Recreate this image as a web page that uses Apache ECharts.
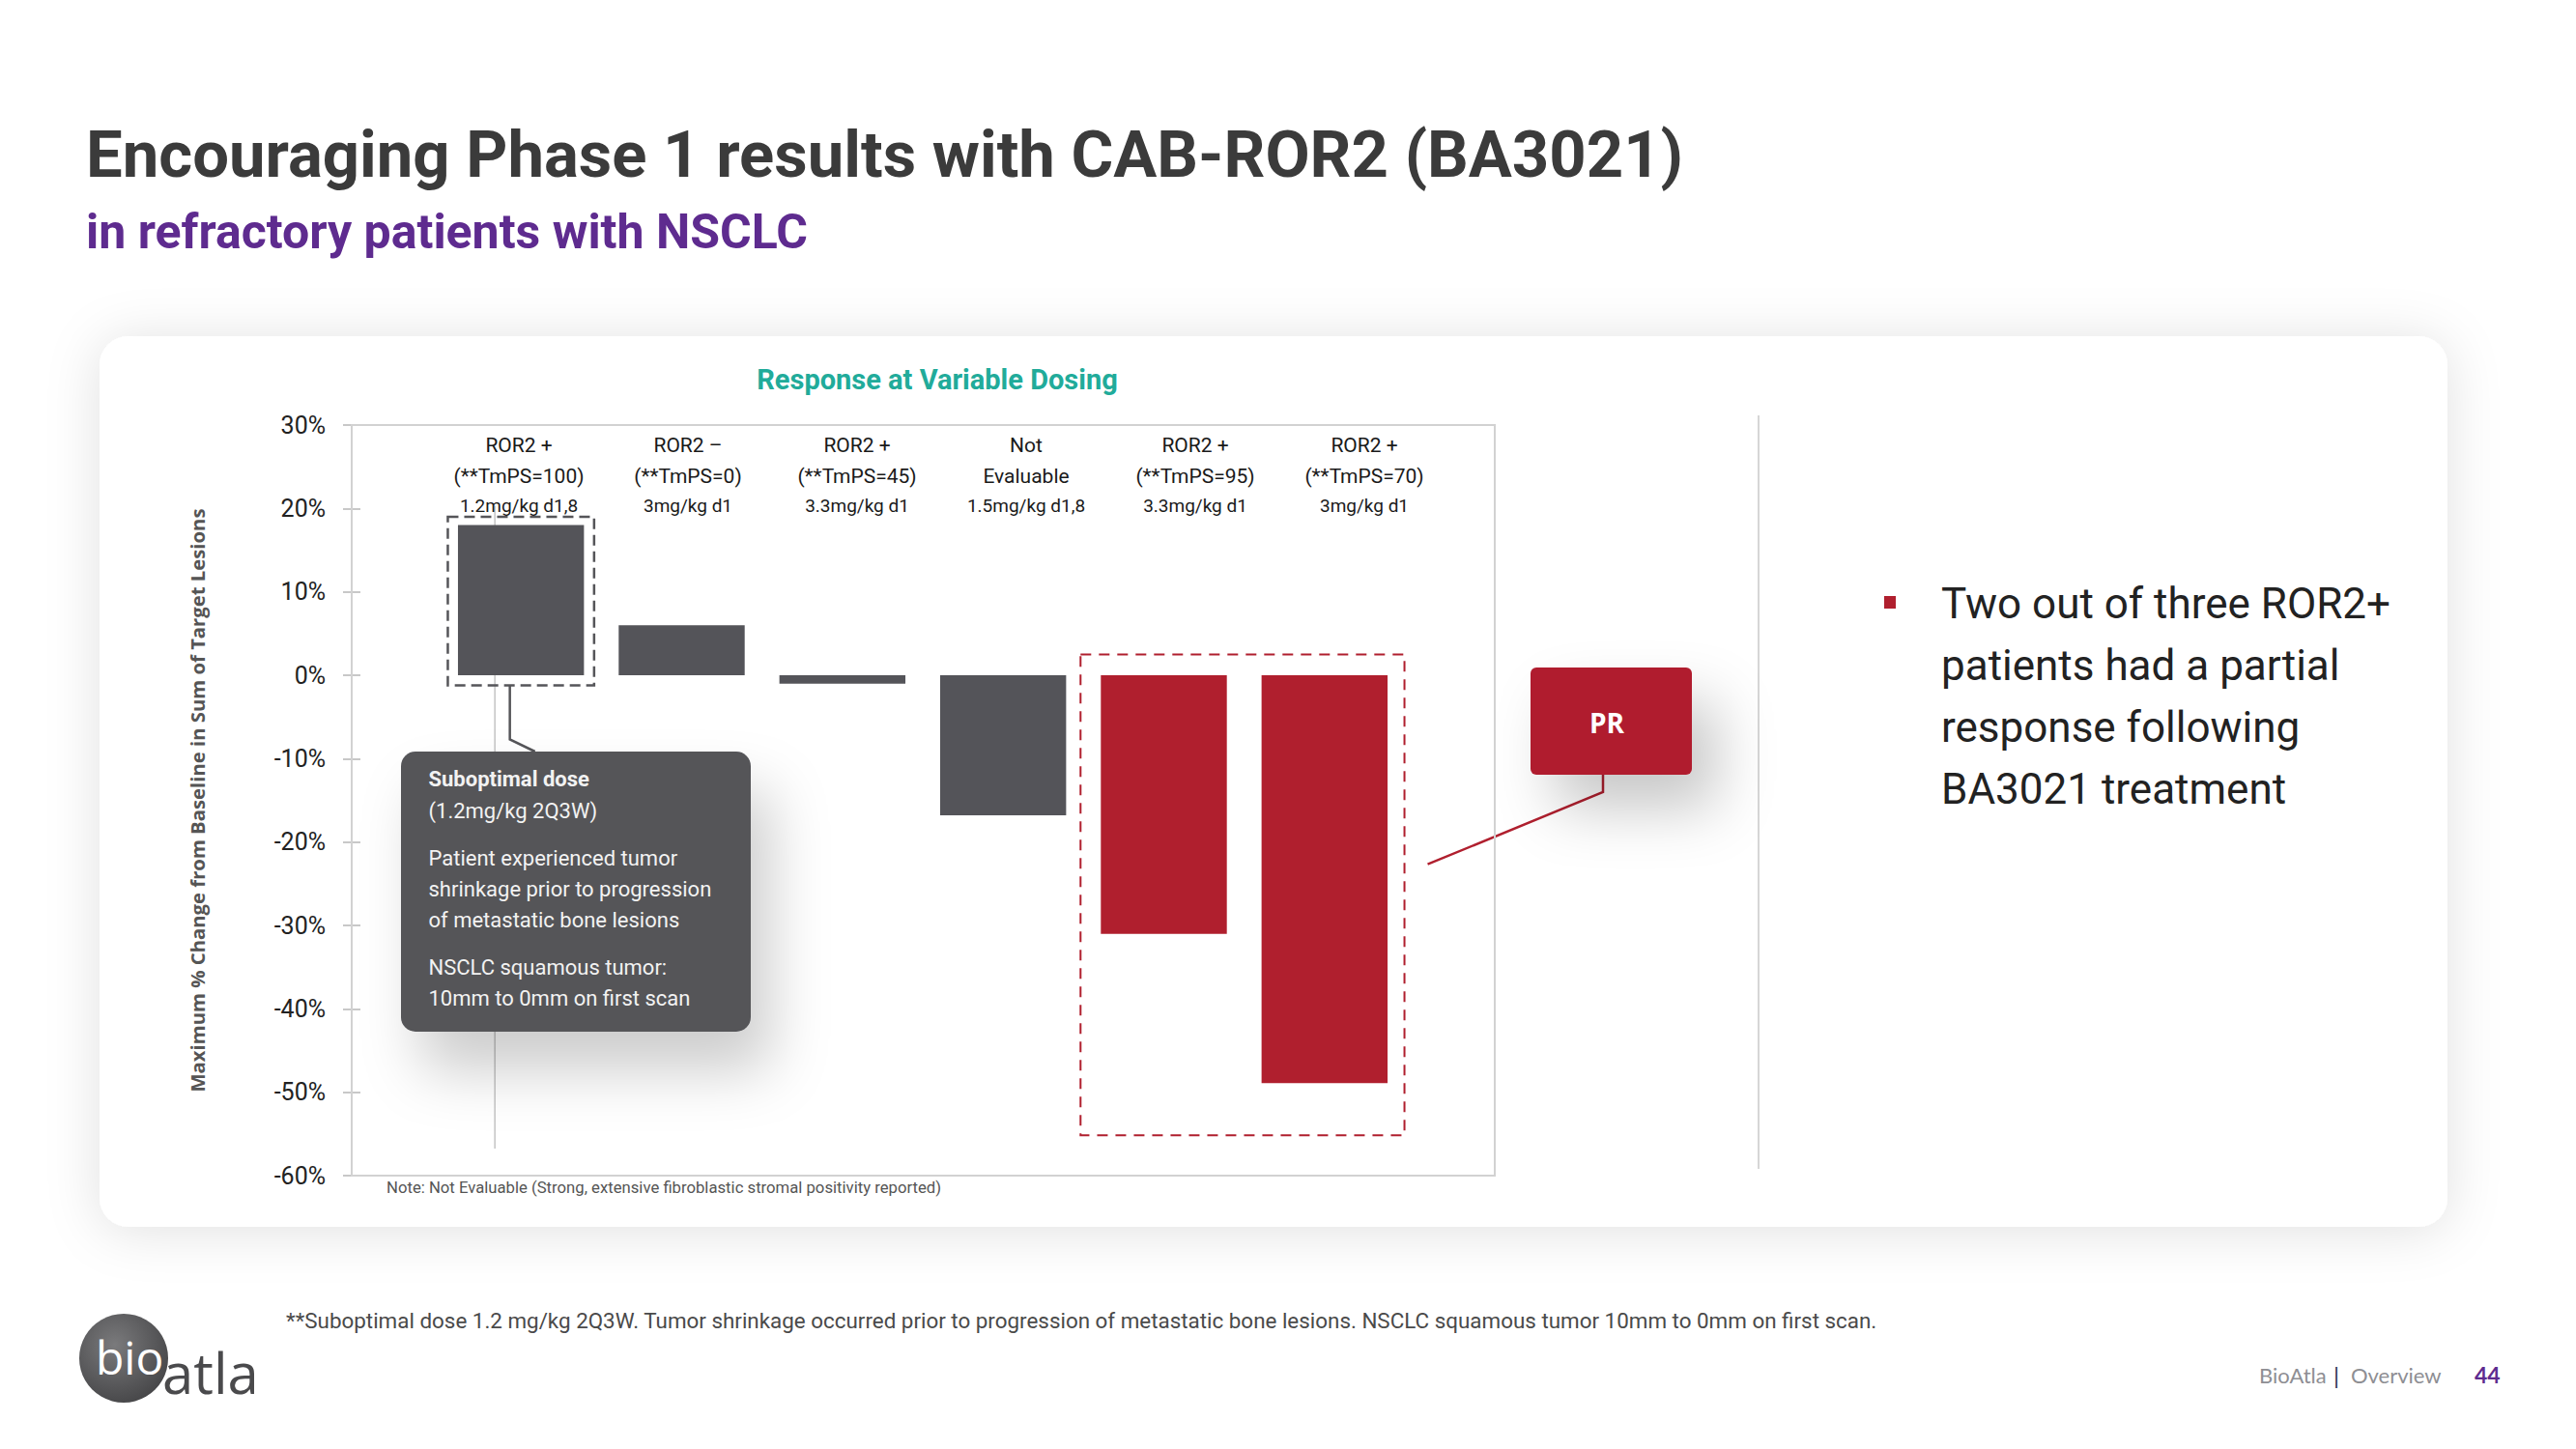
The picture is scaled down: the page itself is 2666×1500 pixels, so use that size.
<!DOCTYPE html>
<html><head><meta charset="utf-8">
<script src="https://cdn.jsdelivr.net/npm/echarts/dist/echarts.min.js"></script>
<style>html,body{margin:0;padding:0;background:#fff;}#c{width:2666px;height:1500px;}</style>
</head><body><div id="c"></div>
<script>
// ---- data ----
const markers = ['ROR2 +', 'ROR2 \u2013', 'ROR2 +', 'Not', 'ROR2 +', 'ROR2 +'];
const tmps = ['(**TmPS=100)', '(**TmPS=0)', '(**TmPS=45)', 'Evaluable', '(**TmPS=95)', '(**TmPS=70)'];
const doses = ['1.2mg/kg d1,8', '3mg/kg d1', '3.3mg/kg d1', '1.5mg/kg d1,8', '3.3mg/kg d1', '3mg/kg d1'];
const values = [18, 6, -1, -16.8, -31, -48.9];
const responses = ['', '', '', '', 'PR', 'PR'];
const yMin = -60, yMax = 30, yStep = 10;
const calloutLines = [
  ['Suboptimal dose', true], ['(1.2mg/kg 2Q3W)', false],
  ['Patient experienced tumor', false], ['shrinkage prior to progression', false], ['of metastatic bone lesions', false],
  ['NSCLC squamous tumor:', false], ['10mm to 0mm on first scan', false]
];
const bulletLines = ['Two out of three ROR2+', 'patients had a partial', 'response following', 'BA3021 treatment'];

const GRAY = '#545459', RED = '#b01f2e', F = 'Roboto';
const chart = echarts.init(document.getElementById('c'), null, {renderer: 'svg', width: 2666, height: 1500});
const idx = values.map((_, i) => String(i));

chart.setOption({
  animation: false,
  backgroundColor: '#ffffff',
  grid: [
    {left: 364, top: 440, width: 1183, height: 777, show: true, borderColor: '#d2d2d2', borderWidth: 2, backgroundColor: 'transparent', z: 1},
    {left: 456, top: 440, width: 998, height: 777},
    {left: 449.5, top: 440, width: 1050, height: 777}
  ],
  xAxis: [
    {gridIndex: 0, type: 'value', min: 0, max: 1, show: false},
    {gridIndex: 1, type: 'category', data: idx, show: false},
    {gridIndex: 2, type: 'category', data: idx, position: 'top',
      axisLine: {show: false}, axisTick: {show: false},
      axisLabel: {inside: true, interval: 0, margin: 5, align: 'center',
        formatter: (v, i) => `{a|${markers[i]}}\n{a|${tmps[i]}}\n{c|${doses[i]}}`,
        rich: {a: {fontFamily: F, fontSize: 21, lineHeight: 32, color: '#1a1a1a', align: 'center'},
               c: {fontFamily: F, fontSize: 19, lineHeight: 28, color: '#1a1a1a', align: 'center'}}}}
  ],
  yAxis: [
    {gridIndex: 0, min: yMin, max: yMax, interval: yStep, position: 'left',
      name: 'Maximum % Change from Baseline in Sum of Target Lesions', nameLocation: 'middle', nameGap: 150, nameRotate: 90,
      nameTextStyle: {fontFamily: 'Open Sans', fontWeight: 'bold', fontSize: 20.3, color: '#555'},
      axisLine: {show: true, lineStyle: {color: '#c8c8c8', width: 2}},
      axisTick: {show: true, length: 9, lineStyle: {color: '#c8c8c8', width: 2}},
      axisLabel: {formatter: '{value}%', fontFamily: F, fontSize: 25, color: '#222', margin: 27},
      splitLine: {show: false}},
    {gridIndex: 0, min: yMin, max: yMax, interval: yStep, position: 'left',
      axisLine: {show: false}, axisLabel: {show: false}, splitLine: {show: false},
      axisTick: {show: true, inside: true, length: 9, lineStyle: {color: '#c8c8c8', width: 2}}},
    {gridIndex: 1, min: yMin, max: yMax, interval: yStep, show: false, splitLine: {show: false}},
    {gridIndex: 2, min: 0, max: 1, show: false, splitLine: {show: false}}
  ],
  series: [{
    type: 'bar', xAxisIndex: 1, yAxisIndex: 2, barCategoryGap: '21.6%',
    data: values.map((v, i) => ({value: v, itemStyle: {color: responses[i] === 'PR' ? RED : GRAY}}))
  }]
});

// ---- annotations derived from the axes ----
const px = (i, v) => chart.convertToPixel({xAxisIndex: 1, yAxisIndex: 2}, [i, v]);
const c0 = px(0, 0)[0], c1 = px(1, 0)[0];
const band = c1 - c0, bw = band * (1 - 0.216);
const y0 = px(0, 0)[1];
const yTop0 = px(0, values[0])[1];
const prIdx = responses.map((r, i) => r === 'PR' ? i : -1).filter(i => i >= 0);
const prFirst = prIdx[0], prLast = prIdx[prIdx.length - 1];
const prMin = Math.min(...prIdx.map(i => values[i]));
const rbL = px(prFirst, 0)[0] - bw / 2 - 21, rbR = px(prLast, 0)[0] + bw / 2 + 17.5;
const rbT = y0 - 21.5, rbB = px(prLast, prMin)[1] + 54;

const g = [];
// card
g.push({type: 'rect', z: -100, shape: {x: 103, y: 348, width: 2430, height: 922, r: 30},
  style: {fill: '#fff', shadowBlur: 55, shadowColor: 'rgba(0,0,0,0.12)', shadowOffsetY: 4}});
// titles
g.push({type: 'text', left: 89, top: 126, style: {text: 'Encouraging Phase 1 results with CAB-ROR2 (BA3021)', font: `bold 67px ${F}`, fill: '#3b3b3b'}});
g.push({type: 'text', left: 89, top: 215, style: {text: 'in refractory patients with NSCLC', font: `bold 50px ${F}`, fill: '#5e2b8f'}});
g.push({type: 'text', x: 970, y: 393, style: {text: 'Response at Variable Dosing', font: `bold 29px ${F}`, fill: '#21ab9a', align: 'center', verticalAlign: 'middle'}});
// separator line
g.push({type: 'line', shape: {x1: 1820, y1: 430, x2: 1820, y2: 1210}, style: {stroke: '#d6d6d6', lineWidth: 2}});
// thin gray leader line behind callout
g.push({type: 'line', shape: {x1: c0 - 27, y1: yTop0 - 20, x2: c0 - 27, y2: 1189}, style: {stroke: '#c4c4c4', lineWidth: 1.5}});
// dashed box bar 1
g.push({type: 'rect', shape: {x: c0 - bw / 2 - 10.5, y: yTop0 - 8.5, width: bw + 21, height: (y0 + 10.5) - (yTop0 - 8.5)},
  style: {fill: 'none', stroke: '#555559', lineWidth: 2.5, lineDash: [11, 6]}});
// red dashed box
g.push({type: 'rect', shape: {x: rbL, y: rbT, width: rbR - rbL, height: rbB - rbT},
  style: {fill: 'none', stroke: RED, lineWidth: 2, lineDash: [11, 8]}});
// connector bar1 -> callout
const cx = c0 - 11.5;
g.push({type: 'polyline', shape: {points: [[cx, y0 + 10.5], [cx, 765.5], [cx + 26, 778]]}, style: {stroke: '#555559', lineWidth: 2.5, fill: 'none'}});
// callout box
g.push({type: 'rect', shape: {x: 415, y: 778, width: 362, height: 290, r: 15},
  style: {fill: '#555559', shadowBlur: 60, shadowOffsetX: 20, shadowOffsetY: 40, shadowColor: 'rgba(0,0,0,0.20)'}});
const cy = [806, 839, 888, 920, 952, 1001, 1033];
calloutLines.forEach(([t, b], k) => g.push({type: 'text', x: 443.5, y: cy[k],
  style: {text: t, font: `${b ? 'bold ' : ''}22px ${F}`, fill: '#f2f2f2', verticalAlign: 'middle'}}));
// PR box
g.push({type: 'polyline', shape: {points: [[1659, 800], [1659, 820], [rbR + 24, 894.7]]}, style: {stroke: RED, lineWidth: 2.5, fill: 'none'}});
g.push({type: 'rect', shape: {x: 1584, y: 691, width: 167, height: 111, r: 6},
  style: {fill: RED, shadowBlur: 60, shadowOffsetX: 25, shadowOffsetY: 35, shadowColor: 'rgba(0,0,0,0.22)'}});
g.push({type: 'text', x: 1663, y: 748, style: {text: 'PR', font: `bold 28px "Open Sans"`, fill: '#fff', align: 'center', verticalAlign: 'middle'}});
// note
g.push({type: 'text', x: 400, y: 1229, style: {text: 'Note: Not Evaluable (Strong, extensive fibroblastic stromal positivity reported)', font: `16.7px ${F}`, fill: '#555', verticalAlign: 'middle'}});
// bullet
g.push({type: 'rect', shape: {x: 1950, y: 617, width: 12, height: 13}, style: {fill: RED}});
const by = [625, 689, 753, 817];
bulletLines.forEach((t, k) => g.push({type: 'text', x: 2009, y: by[k], style: {text: t, font: `44px ${F}`, fill: '#222', verticalAlign: 'middle'}}));
// footer
g.push({type: 'text', x: 296, y: 1367, style: {text: '**Suboptimal dose 1.2 mg/kg 2Q3W. Tumor shrinkage occurred prior to progression of metastatic bone lesions. NSCLC squamous tumor 10mm to 0mm on first scan.', font: `22.4px ${F}`, fill: '#4a4a4a', verticalAlign: 'middle'}});
// logo
g.push({type: 'circle', shape: {cx: 128, cy: 1406, r: 46}, style: {fill: new echarts.graphic.RadialGradient(0.4, 0.35, 0.8, [{offset: 0, color: '#7a7a7c'}, {offset: 1, color: '#3e3e40'}])}});
g.push({type: 'text', x: 99, y: 1404, style: {text: 'bio', font: `48px "Open Sans"`, fill: '#fff', verticalAlign: 'middle'}});
g.push({type: 'text', x: 168, y: 1420, style: {text: 'atla', font: `58px "Open Sans"`, fill: '#4a4a4c', verticalAlign: 'middle'}});
// footer right
g.push({type: 'text', x: 2338, y: 1423, style: {text: 'BioAtla', font: `22px Lato`, fill: '#8e8e93', verticalAlign: 'middle'}});
g.push({type: 'text', x: 2415, y: 1423, style: {text: '|', font: `24px Lato`, fill: '#2b3452', verticalAlign: 'middle'}});
g.push({type: 'text', x: 2433, y: 1423, style: {text: 'Overview', font: `22px Lato`, fill: '#8e8e93', verticalAlign: 'middle'}});
g.push({type: 'text', x: 2561, y: 1423, style: {text: '44', font: `bold 23px Lato`, fill: '#5e2b8f', verticalAlign: 'middle'}});

chart.setOption({graphic: {elements: g}});
</script></body></html>
